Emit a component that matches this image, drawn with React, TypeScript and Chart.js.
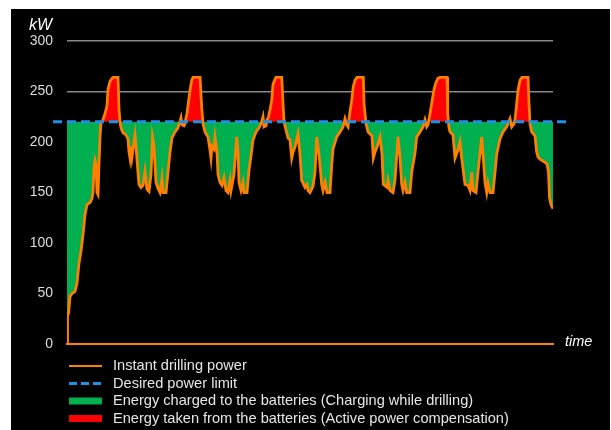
import React, { useEffect, useRef } from "react";
import { Chart, registerables } from "chart.js";

Chart.register(...registerables);

// ---- data ----
const yTickValues = [0, 50, 100, 150, 200, 250, 300];
const gridLineValues = [250, 300];
const powerLimitKw = 220;
const timeMax = 486;
const yAxisTitle = "kW";
const xAxisTitle = "time";
const legendLabels = [
  "Instant drilling power",
  "Desired power limit",
  "Energy charged to the batteries (Charging while drilling)",
  "Energy taken from the batteries (Active power compensation)",
];

// [time, kW]
const startRamp: [number, number][] = [
  [0, 0], [0.5, 28], [1.5, 30], [3, 47], [5, 50], [8, 52], [10, 60], [12, 80], [14, 92], [16, 108],
  [18, 128], [20, 138], [23, 140], [25, 144], [26, 150], [27, 176], [28, 182], [29, 178], [30, 150],
  [31, 148], [32, 178], [33, 205], [34, 219],
];
const cycle1: [number, number][] = [
  [36, 222], [38, 228], [40, 236], [41, 252], [43, 260], [45, 263], [46, 264], [51, 264], [52, 232],
  [53, 220], [54, 214], [56, 209], [59, 207], [61, 203], [62, 190], [63, 184], [64, 196], [65, 185],
  [67, 200], [68, 207], [69, 196], [71, 170], [72, 158], [74, 155], [76, 157], [78, 171], [80, 153],
  [82, 151], [84, 168], [85.5, 205], [87, 196], [89, 160], [91, 154], [93, 150], [95, 164], [96, 150],
  [99, 150], [101, 170], [103, 190], [105, 204], [108, 210], [111, 214], [114, 224], [115, 217],
  [117, 216], [118, 218],
];
const cycle2: [number, number][] = [
  [119, 224], [120, 228], [121, 236], [123, 251], [124.7, 261], [126, 264], [133, 264], [134.7, 234],
  [136, 218], [138, 210], [141, 205], [143, 192], [144, 184], [145, 196], [147, 193], [148, 205],
  [150, 190], [151, 168], [153, 160], [155, 157], [157, 165], [159, 152], [161, 150], [163, 162],
  [164, 152], [167, 168], [169.7, 205], [171, 190], [172, 160], [174, 152], [176, 160], [177, 150],
  [180, 150], [182, 172], [184, 186], [186, 202], [189, 210], [192, 214], [194, 218], [196, 225],
  [197, 215], [199, 216], [200, 222],
];
const cycle3: [number, number][] = [
  [201.3, 224], [203, 232], [204.7, 241], [206, 257], [208, 262], [209, 264], [214.7, 264], [216, 238],
  [217, 220], [219.7, 209], [221, 204], [223, 202], [224.7, 184], [226, 190], [228, 195], [231, 208],
  [233, 188], [234.7, 162], [238, 155], [240, 158], [241, 152], [243, 150], [246, 156], [248, 170],
  [249.7, 205], [252, 188], [254.7, 158], [256, 152], [258, 160], [260, 150], [263, 150], [264.7, 177],
  [266, 193], [269.7, 205], [273, 210], [276, 215], [278, 223], [279.7, 217], [281, 215],
];
const cycle4: [number, number][] = [
  [283, 230], [284.7, 241], [286.3, 255], [288, 261], [290, 264], [296.3, 264], [297, 238], [299, 218],
  [301, 210], [305, 206], [306.3, 184], [308, 190], [310, 195], [313, 205], [315, 188], [316.3, 158],
  [320, 155], [321, 162], [323, 152], [326, 150], [328, 162], [331, 205], [333, 185], [334.7, 158],
  [336, 152], [338, 160], [339.7, 150], [343, 150], [344.7, 170], [348, 189], [349.7, 205], [353, 210],
  [356, 215], [358, 222], [359.7, 215], [361, 217],
];
const cycle5: [number, number][] = [
  [363, 228], [365, 240], [367, 252], [369, 259], [371, 263], [373, 264], [380, 264], [380.7, 228],
  [382, 214], [383, 210], [386, 207], [388, 184], [391, 192], [393, 200], [394.7, 184], [398, 158],
  [401, 157], [403, 152], [404.7, 170], [406, 152], [409, 150], [411, 170], [414.7, 205], [416, 188],
  [418, 160], [419.7, 150], [421, 159], [423, 150], [426, 150], [428, 170], [429.7, 188], [433, 203],
  [436, 210], [439.7, 215], [441, 218], [443, 223], [444.7, 215], [447, 218], [448, 222],
];
const cycle6: [number, number][] = [
  [449.7, 238], [451, 251], [453, 261], [455, 264], [461, 264], [462, 238], [463, 218], [464.7, 210],
  [468, 206], [469.7, 190], [471, 185], [473, 183], [478, 180], [480, 178], [481.5, 170], [482.5, 145],
  [484, 138], [486, 134],
];

const drillingPower: [number, number][] = [
  ...startRamp, ...cycle1, ...cycle2, ...cycle3, ...cycle4, ...cycle5, ...cycle6,
];

// ---- styles ----
const FONT = "'Liberation Sans', Arial, sans-serif";
const ORANGE = "#ff8000";
const BLUE = "#1f8fe8";
const GREEN = "#00b050";
const RED = "#ff0000";
const GRID = "#8a8a8a";
const TEXT = "#e6e6e6";

const overlayPlugin = {
  id: "overlay",
  afterDatasetsDraw(chart: any) {
    const { ctx, chartArea, scales } = chart;
    const y = scales.y.getPixelForValue(powerLimitKw);
    ctx.save();
    ctx.strokeStyle = BLUE;
    ctx.lineWidth = 3;
    ctx.setLineDash([9, 5]);
    ctx.beginPath();
    ctx.moveTo(chartArea.left - 14, y);
    ctx.lineTo(chartArea.right + 14, y);
    ctx.stroke();
    ctx.restore();
  },
  afterDraw(chart: any) {
    const { ctx, chartArea } = chart;
    ctx.save();
    // axis titles
    ctx.fillStyle = "#ffffff";
    ctx.textBaseline = "middle";
    ctx.textAlign = "left";
    ctx.font = `italic 16px ${FONT}`;
    ctx.fillText(yAxisTitle, chartArea.left - 38, chartArea.top - 15);
    ctx.font = `italic 14.5px ${FONT}`;
    ctx.fillText(xAxisTitle, chartArea.right + 12, chartArea.bottom - 2);

    // legend
    const sx = chartArea.left + 2;
    const sw = 33;
    const tx = chartArea.left + 46;
    const rows = [22, 39.5, 57, 74.5].map((d) => chartArea.bottom + d);
    ctx.font = `14.6px ${FONT}`;
    ctx.fillStyle = TEXT;
    legendLabels.forEach((label, i) => {
      ctx.fillText(label, tx, rows[i]);
    });
    // symbols
    ctx.strokeStyle = ORANGE;
    ctx.lineWidth = 2;
    ctx.beginPath();
    ctx.moveTo(sx, rows[0]);
    ctx.lineTo(sx + sw, rows[0]);
    ctx.stroke();
    ctx.strokeStyle = BLUE;
    ctx.lineWidth = 3;
    ctx.setLineDash([8, 4]);
    ctx.beginPath();
    ctx.moveTo(sx, rows[1]);
    ctx.lineTo(sx + sw, rows[1]);
    ctx.stroke();
    ctx.setLineDash([]);
    ctx.fillStyle = GREEN;
    ctx.fillRect(sx, rows[2] - 3.5, sw, 7);
    ctx.fillStyle = RED;
    ctx.fillRect(sx, rows[3] - 3.5, sw, 7);
    ctx.restore();
  },
};

export default function App() {
  const ref = useRef<HTMLCanvasElement | null>(null);
  useEffect(() => {
    if (!ref.current) return;
    const chart = new Chart(ref.current, {
      type: "line",
      data: {
        datasets: [
          {
            label: legendLabels[0],
            data: drillingPower.map(([x, y]) => ({ x, y })),
            borderColor: ORANGE,
            borderWidth: 2.8,
            pointRadius: 0,
            tension: 0,
            fill: { target: { value: powerLimitKw }, above: RED, below: GREEN },
          } as any,
        ],
      },
      options: {
        animation: false,
        responsive: false,
        events: [],
        layout: { padding: { left: 0, top: 32, right: 57, bottom: 86 } },
        plugins: { legend: { display: false }, tooltip: { enabled: false } },
        scales: {
          x: {
            type: "linear",
            min: 0,
            max: timeMax,
            grid: { display: false, drawTicks: false },
            ticks: { display: false },
            border: { display: true, color: ORANGE, width: 2 },
            afterFit: (s: any) => {
              s.height = 0;
            },
          },
          y: {
            min: 0,
            max: 300,
            afterBuildTicks: (s: any) => {
              s.ticks = yTickValues.map((v) => ({ value: v }));
            },
            ticks: {
              color: "#dcdcdc",
              font: { size: 14, family: FONT },
              padding: 14,
            },
            grid: {
              color: (c: any) =>
                c.tick && gridLineValues.includes(c.tick.value) ? GRID : "rgba(0,0,0,0)",
              lineWidth: 1.5,
              drawTicks: false,
            },
            border: { display: false },
            afterFit: (s: any) => {
              s.width = 56;
            },
          },
        },
      },
      plugins: [overlayPlugin],
    });
    return () => chart.destroy();
  }, []);
  return (
    <div style={{ position: "fixed", left: 11, top: 9, width: 599, height: 421, background: "#000" }}>
      <canvas ref={ref} width={599} height={421} style={{ display: "block" }} />
    </div>
  );
}
